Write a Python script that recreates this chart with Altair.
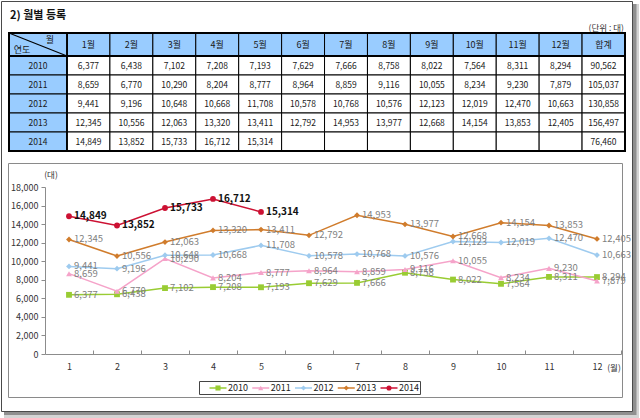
import altair as alt
import pandas as pd

FONT = "Noto Sans CJK KR"

years = ["2010", "2011", "2012", "2013", "2014"]
months = [1, 2, 3, 4, 5, 6, 7, 8, 9, 10, 11, 12]
col_labels = ["1월", "2월", "3월", "4월", "5월", "6월", "7월", "8월", "9월", "10월", "11월", "12월", "합계"]

v2010 = [6377, 6438, 7102, 7208, 7193, 7629, 7666, 8758, 8022, 7564, 8311, 8294]
v2011 = [8659, 6770, 10290, 8204, 8777, 8964, 8859, 9116, 10055, 8234, 9230, 7879]
v2012 = [9441, 9196, 10648, 10668, 11708, 10578, 10768, 10576, 12123, 12019, 12470, 10663]
v2013 = [12345, 10556, 12063, 13320, 13411, 12792, 14953, 13977, 12668, 14154, 13853, 12405]
v2014 = [14849, 13852, 15733, 16712, 15314]
totals = [90562, 105037, 130858, 156497, 76460]

series = {"2010": v2010, "2011": v2011, "2012": v2012, "2013": v2013, "2014": v2014}

line_colors = ["#99cc33", "#f5a3c9", "#9ecbef", "#d07c2c", "#cc1133"]
line_shapes = ["square", "triangle-up", "diamond", "diamond", "circle"]
BLUE = "#99ccff"

# ---------- data tables ----------
tab_rows = []
for yi, y in enumerate(years):
    vals = series[y]
    for i, c in enumerate(col_labels[:-1]):
        tab_rows.append({"year": y, "col": c, "text": f"{vals[i]:,}" if i < len(vals) else ""})
    tab_rows.append({"year": y, "col": "합계", "text": f"{totals[yi]:,}"})
tab = pd.DataFrame(tab_rows)
head_df = pd.DataFrame({"col": col_labels, "row": ["h"] * len(col_labels)})
corner_df = pd.DataFrame({"c": ["h"], "row": ["h"]})
yearcol_df = pd.DataFrame({"c": ["h"] * len(years), "year": years})

line_rows = []
for y in years:
    for m, v in zip(months, series[y]):
        line_rows.append({"year": y, "month": m, "value": v})
line_df = pd.DataFrame(line_rows)
legend_df = pd.DataFrame({"year": years})


def deco():
    return alt.Chart(pd.DataFrame({"k": [0]}))


def bx(field, domain, rng):
    return alt.X(f"{field}:N", scale=alt.Scale(type="band", domain=domain, range=rng,
                                                paddingInner=0, paddingOuter=0), axis=None)


def by(field, domain, rng):
    return alt.Y(f"{field}:N", scale=alt.Scale(type="band", domain=domain, range=rng,
                                                paddingInner=0, paddingOuter=0), axis=None)


def px(field, domain, rng):
    return alt.X(f"{field}:N", scale=alt.Scale(type="point", domain=domain, range=rng, padding=0.5), axis=None)


def py(field, domain, rng):
    return alt.Y(f"{field}:N", scale=alt.Scale(type="point", domain=domain, range=rng, padding=0.5), axis=None)


layers = []

# ---------- page frame ----------
layers.append(deco().mark_rect(fill="#d4d4d4").encode(
    x=alt.value(4), x2=alt.value(639), y=alt.value(4), y2=alt.value(418)))
layers.append(deco().mark_rect(fill="#8f8f8f").encode(
    x=alt.value(4), x2=alt.value(636.5), y=alt.value(4), y2=alt.value(415)))
layers.append(deco().mark_rect(fill="white", stroke="#4a4a4a", strokeWidth=1).encode(
    x=alt.value(1.5), x2=alt.value(632.5), y=alt.value(1.5), y2=alt.value(411.5)))

layers.append(deco().mark_text(font=FONT, fontSize=11, fontWeight="bold", align="left",
                               baseline="middle", color="#111").encode(
    x=alt.value(10), y=alt.value(16), text=alt.value("2) 월별 등록")))
layers.append(deco().mark_text(font=FONT, fontSize=8.5, align="right", baseline="middle",
                               color="#333").encode(
    x=alt.value(624), y=alt.value(28), text=alt.value("(단위 : 대)")))

# ---------- table ----------
TX = [67, 625]
T0 = [9, 67]
HY = [33, 56]
BY = [56, 151]

layers.append(alt.Chart(head_df).mark_rect(fill=BLUE, stroke="#000", strokeWidth=1).encode(
    x=bx("col", col_labels, TX), y=by("row", ["h"], HY)))
layers.append(alt.Chart(head_df).mark_text(font=FONT, fontSize=9, color="#1a1a1a").encode(
    x=px("col", col_labels, TX), y=py("row", ["h"], HY), text="col:N"))

layers.append(alt.Chart(corner_df).mark_rect(fill=BLUE, stroke="#000", strokeWidth=1).encode(
    x=bx("c", ["h"], T0), y=by("row", ["h"], HY)))
layers.append(alt.Chart(yearcol_df).mark_rect(fill=BLUE, stroke="#000", strokeWidth=1).encode(
    x=bx("c", ["h"], T0), y=by("year", years, BY)))
layers.append(alt.Chart(yearcol_df).mark_text(font=FONT, fontSize=8.5, color="#1a1a1a").encode(
    x=px("c", ["h"], T0), y=py("year", years, BY), text="year:N"))

layers.append(alt.Chart(tab).mark_rect(fill="white", stroke="#000", strokeWidth=1).encode(
    x=bx("col", col_labels, TX), y=by("year", years, BY)))
layers.append(alt.Chart(tab).mark_text(font=FONT, fontSize=8.5, color="#1a1a1a").encode(
    x=px("col", col_labels, TX), y=py("year", years, BY), text="text:N"))

# corner cell diagonal and labels
layers.append(deco().mark_rule(color="#000", strokeWidth=1.2).encode(
    x=alt.value(9), x2=alt.value(67), y=alt.value(33), y2=alt.value(56)))
layers.append(deco().mark_text(font=FONT, fontSize=9, color="#1a1a1a").encode(
    x=alt.value(50), y=alt.value(40), text=alt.value("월")))
layers.append(deco().mark_text(font=FONT, fontSize=9, color="#1a1a1a").encode(
    x=alt.value(22), y=alt.value(50), text=alt.value("연도")))

# thick table lines
layers.append(deco().mark_rule(color="#000", strokeWidth=1.8).encode(
    x=alt.value(9), x2=alt.value(625), y=alt.value(56)))
layers.append(deco().mark_rule(color="#000", strokeWidth=1.8).encode(
    x=alt.value(67), y=alt.value(33), y2=alt.value(151)))
layers.append(deco().mark_rect(fillOpacity=0, stroke="#000", strokeWidth=2).encode(
    x=alt.value(9), x2=alt.value(625), y=alt.value(33), y2=alt.value(151)))

# ---------- chart ----------
layers.append(deco().mark_rect(fill="white", stroke="#8a8a8a", strokeWidth=1).encode(
    x=alt.value(8.5), x2=alt.value(622.5), y=alt.value(163.5), y2=alt.value(397.5)))

XS = alt.Scale(domain=[0.5, 12.5], range=[45, 621], nice=False, zero=False)
YS = alt.Scale(domain=[0, 18000], range=[354, 187], nice=False, zero=False)
COLOR = alt.Color("year:N", scale=alt.Scale(domain=years, range=line_colors), legend=None)
SHAPE = alt.Shape("year:N", scale=alt.Scale(domain=years, range=line_shapes), legend=None)

x_axis = alt.Axis(orient="bottom", offset=-64, values=months, ticks=False, domainColor="#8c8c8c",
                  labelFont=FONT, labelFontSize=9, labelColor="#333", labelPadding=8,
                  labelAngle=0, grid=False, title=None, zindex=1)
tick_axis = alt.Axis(orient="top", offset=-354, values=[m + 0.5 for m in months], labels=False,
                     domain=False, tickSize=4, tickColor="#8c8c8c", grid=False, title=None, zindex=1)
y_axis = alt.Axis(orient="left", offset=-45, values=list(range(0, 18001, 2000)),
                  labelExpr="format(datum.value, ',.0f')",
                  tickSize=4, tickColor="#8c8c8c", domainColor="#8c8c8c", labelFont=FONT,
                  labelFontSize=9, labelColor="#333", labelPadding=3, grid=False, title=None,
                  zindex=1)

layers.append(alt.Chart(line_df).mark_line(strokeWidth=1.5).encode(
    x=alt.X("month:Q", scale=XS, axis=x_axis),
    y=alt.Y("value:Q", scale=YS, axis=y_axis),
    color=COLOR))
layers.append(alt.Chart(line_df).mark_point(filled=True, size=34, opacity=1).encode(
    x=alt.X("month:Q", scale=XS, axis=tick_axis),
    y=alt.Y("value:Q", scale=YS, axis=None),
    color=COLOR, shape=SHAPE))
layers.append(alt.Chart(line_df).transform_filter(alt.datum.year != "2014").mark_text(
    font=FONT, fontSize=9.5, align="left", baseline="middle", dx=5, color="#7f7f7f").encode(
    x=alt.X("month:Q", scale=XS, axis=None),
    y=alt.Y("value:Q", scale=YS, axis=None),
    text=alt.Text("value:Q", format=",")))
layers.append(alt.Chart(line_df).transform_filter(alt.datum.year == "2014").mark_text(
    font=FONT, fontSize=10, fontWeight="bold", align="left", baseline="middle", dx=5,
    color="#111").encode(
    x=alt.X("month:Q", scale=XS, axis=None),
    y=alt.Y("value:Q", scale=YS, axis=None),
    text=alt.Text("value:Q", format=",")))

layers.append(deco().mark_text(font=FONT, fontSize=8.5, color="#333").encode(
    x=alt.value(51), y=alt.value(175), text=alt.value("(대)")))
layers.append(deco().mark_text(font=FONT, fontSize=8.5, color="#333").encode(
    x=alt.value(614), y=alt.value(368), text=alt.value("(월)")))

# ---------- legend ----------
LX = alt.X("year:N", scale=alt.Scale(type="point", domain=years, range=[218, 389], padding=0), axis=None)
layers.append(deco().mark_rect(fill="white", stroke="#444", strokeWidth=1).encode(
    x=alt.value(199.5), x2=alt.value(420.5), y=alt.value(381.5), y2=alt.value(394.5)))
layers.append(alt.Chart(legend_df).mark_point(shape="M-1,0L1,0", size=289, filled=False,
                                              strokeWidth=1.5, opacity=1).encode(
    x=LX, y=alt.value(388), color=COLOR))
layers.append(alt.Chart(legend_df).mark_point(filled=True, size=26, opacity=1).encode(
    x=LX, y=alt.value(388), color=COLOR, shape=SHAPE))
layers.append(alt.Chart(legend_df).mark_text(font=FONT, fontSize=9, align="left", baseline="middle",
                                             dx=10, color="#222").encode(
    x=LX, y=alt.value(388), text="year:N"))

chart = alt.layer(*layers).resolve_scale(x="independent", y="independent").properties(
    width=640, height=418, autosize=alt.AutoSizeParams(type="none"), padding=0, background="white"
).configure_view(stroke="transparent")

chart.save("out.html", embed_options={"renderer": "svg", "actions": False})
